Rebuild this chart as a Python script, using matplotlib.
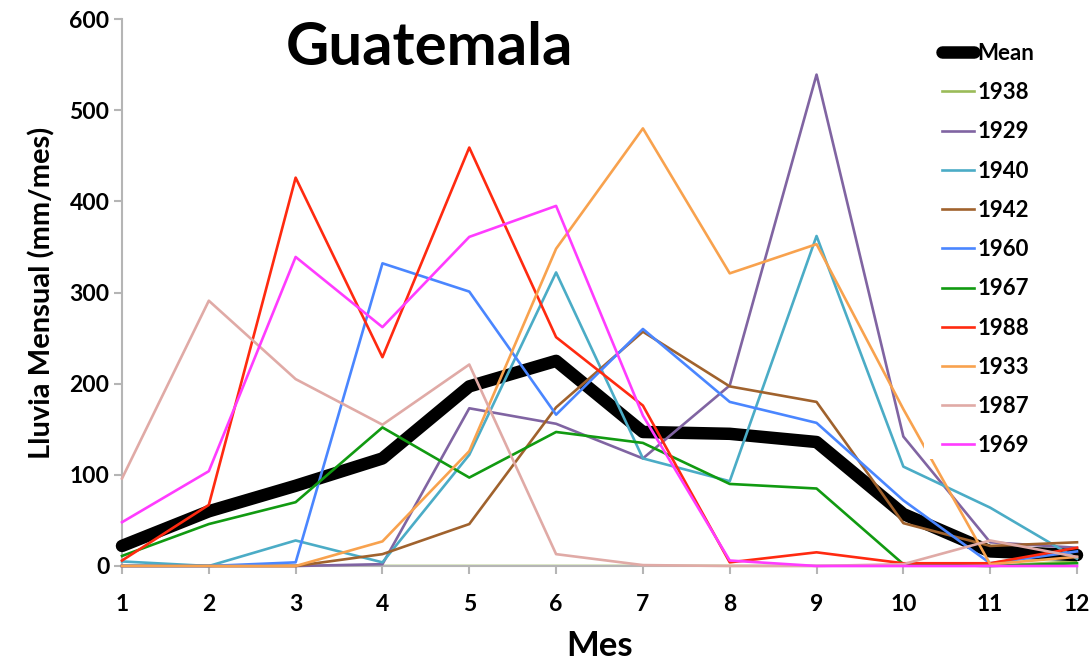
import matplotlib
matplotlib.use("Agg")
import matplotlib.pyplot as plt
from matplotlib.patches import Rectangle

plt.rcParams['font.family'] = ['Lato', 'DejaVu Sans']

# Monthly rainfall (mm/month) for Guatemala
months = [1, 2, 3, 4, 5, 6, 7, 8, 9, 10, 11, 12]
mean_rain = [22, 60, 88, 118, 197, 225, 147, 145, 136, 57, 16, 12]
rain_1938 = [0, 0, 0, 0, 0, 0, 0, 0, 0, 0, 0, 5]
rain_1929 = [0, 0, 0, 2, 173, 156, 118, 198, 539, 142, 26, 20]
rain_1940 = [5, 0, 28, 4, 122, 322, 118, 93, 362, 109, 64, 8]
rain_1942 = [0, 0, 0, 13, 46, 174, 257, 197, 180, 47, 22, 26]
rain_1960 = [0, 0, 4, 332, 301, 166, 260, 180, 157, 72, 3, 16]
rain_1967 = [11, 46, 70, 152, 97, 147, 135, 90, 85, 2, 0, 3]
rain_1988 = [6, 67, 426, 229, 459, 251, 176, 4, 15, 3, 3, 20]
rain_1933 = [0, 0, 0, 27, 126, 348, 480, 321, 353, 172, 2, 10]
rain_1987 = [96, 291, 205, 155, 221, 13, 1, 0, 0, 2, 28, 10]
rain_1969 = [48, 104, 339, 262, 361, 395, 165, 6, 0, 0, 0, 0]

years = ['1938', '1929', '1940', '1942', '1960', '1967', '1988', '1933', '1987', '1969']
year_series = [rain_1938, rain_1929, rain_1940, rain_1942, rain_1960,
               rain_1967, rain_1988, rain_1933, rain_1987, rain_1969]
year_colors = ['#9bbb59', '#8064a2', '#4bacc6', '#a0622d', '#4a86ff',
               '#119a11', '#ff2a10', '#f8a24e', '#e0aaa6', '#ff3cff']

W, H = 1089, 663
fig = plt.figure(figsize=(W / 100, H / 100), dpi=100)
ax = fig.add_axes([122 / W, (H - 566) / H, (1077 - 122) / W, (566 - 19) / H])

ax.plot(months, mean_rain, color='black', lw=9, solid_joinstyle='round',
        solid_capstyle='round', label='Mean', clip_on=False, zorder=2)
for yr, vals, col in zip(years, year_series, year_colors):
    if yr == '1938':
        # sits on the baseline, mostly hidden under the axis line
        ax.plot(months, vals, color=col, lw=1.9, label=yr, zorder=1.5)
    else:
        ax.plot(months, vals, color=col, lw=1.9, label=yr, clip_on=False, zorder=2)

ax.set_xlim(1, 12)
ax.set_ylim(0, 600)
ax.set_xticks(months)
ax.set_yticks(range(0, 601, 100))

for side in ('top', 'right'):
    ax.spines[side].set_visible(False)
for side in ('left', 'bottom'):
    ax.spines[side].set_color('#b5b5b5')
    ax.spines[side].set_linewidth(1.5)
    ax.spines[side].set_zorder(1.8)
ax.tick_params(axis='both', direction='out', length=6, width=1.5, color='#b5b5b5',
               labelsize=16.5)
ax.tick_params(axis='x', pad=14)
ax.tick_params(axis='y', pad=3)
for lbl in ax.get_xticklabels() + ax.get_yticklabels():
    lbl.set_fontweight('bold')

ax.set_xlabel('Mes', fontsize=25, fontweight='bold', labelpad=11)
ax.set_ylabel('Lluvia Mensual (mm/mes)', fontsize=21, fontweight='bold', labelpad=10)

fig.text(429 / W, (H - 65) / H, 'Guatemala', fontsize=43, fontweight='bold',
         ha='center', va='baseline')

# white legend area that masks the lines behind it
ax.add_patch(Rectangle((924 / W, (H - 459) / H), (W - 924) / W, (459 - 25) / H,
                       transform=fig.transFigure, facecolor='white',
                       edgecolor='none', zorder=4, clip_on=False))

leg = ax.legend(loc='upper left', bbox_to_anchor=(942 / W, (H - 43) / H),
                bbox_transform=fig.transFigure, frameon=False, fontsize=16,
                handlelength=1.45, handletextpad=0.15, labelspacing=0.82,
                borderpad=0, borderaxespad=0)
for t in leg.get_texts():
    t.set_fontweight('bold')
leg.set_zorder(5)

fig.savefig('out.png', dpi=100)
